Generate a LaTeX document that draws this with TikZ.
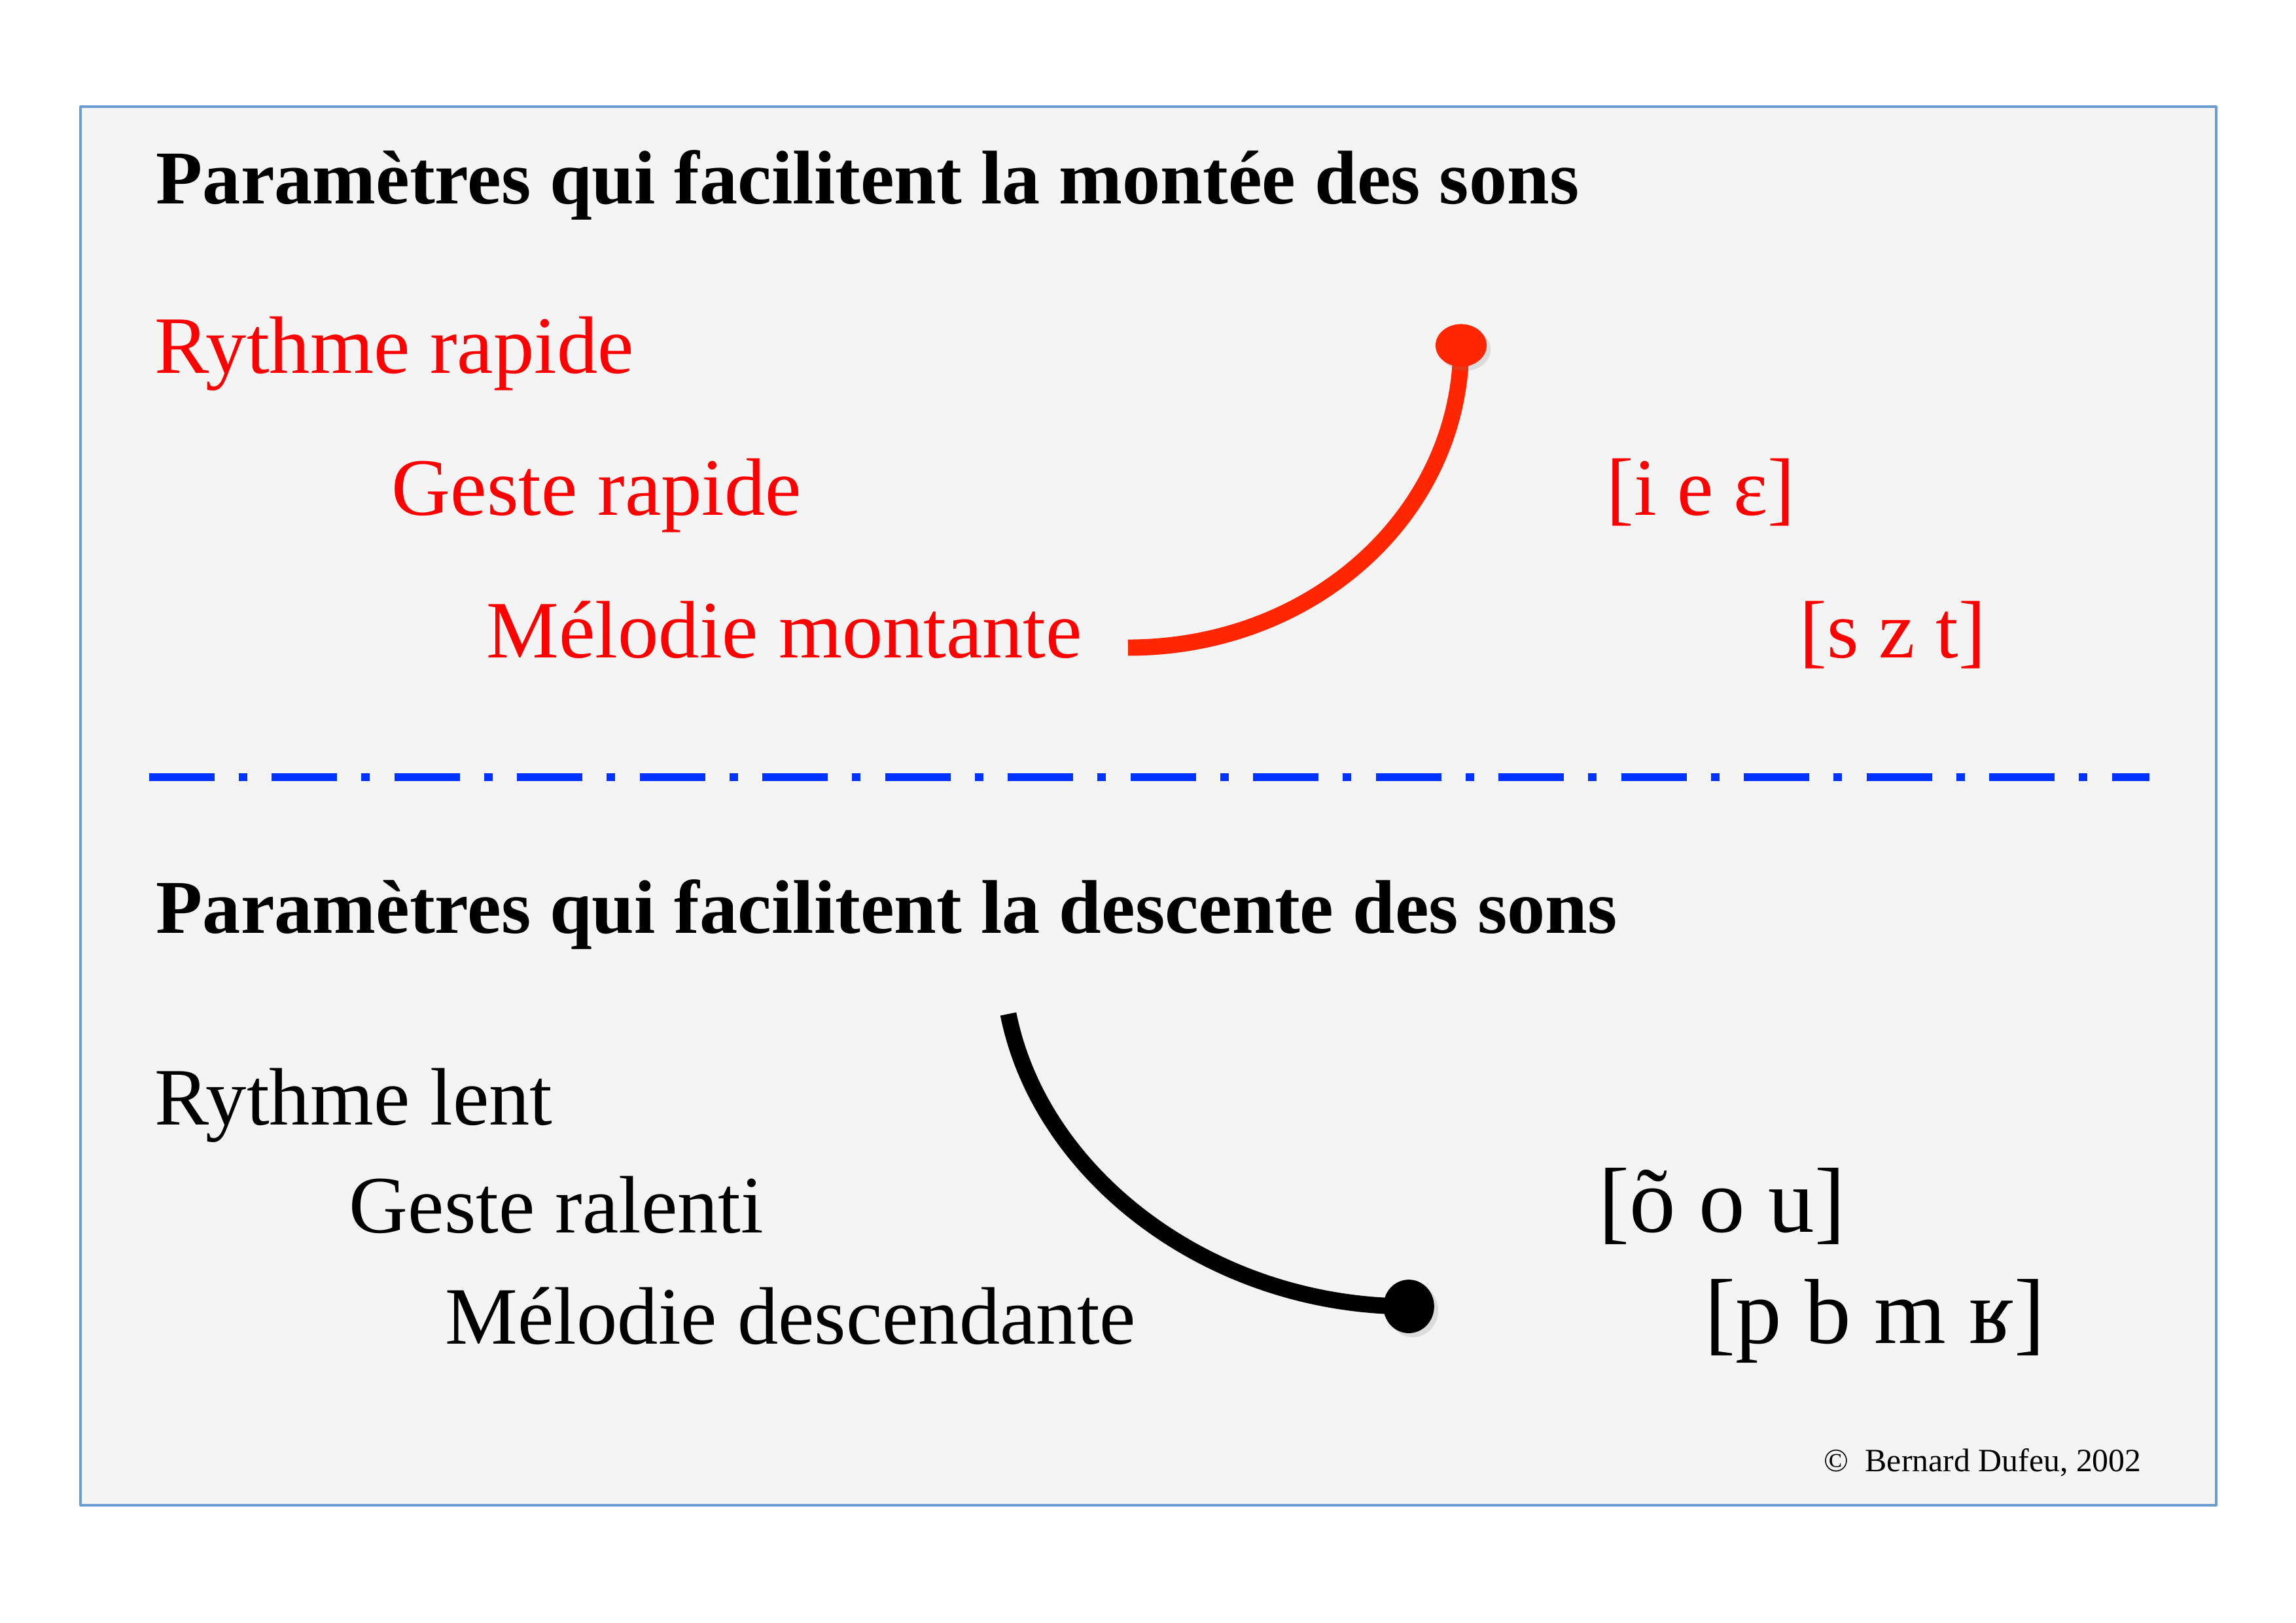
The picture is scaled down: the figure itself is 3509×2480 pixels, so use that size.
\documentclass[tikz,border=0pt]{standalone}
\usepackage{fontspec}
\setmainfont{Liberation Serif}
\usetikzlibrary{shapes.geometric,shadows}
\definecolor{fond}{RGB}{244,244,244}
\definecolor{cadre}{RGB}{106,155,209}
\definecolor{rougevif}{RGB}{255,38,0}
\definecolor{bleutrait}{RGB}{0,51,255}
\begin{document}
\begin{tikzpicture}[x=0.08464mm,y=-0.08464mm,line join=round,
  texte/.style={anchor=base west,inner sep=0pt},
  titre/.style={texte,font=\fontsize{28}{34}\selectfont\bfseries},
  ligne/.style={texte,font=\fontsize{30}{36}\selectfont},
  phonbas/.style={texte,font=\fontsize{34}{40}\selectfont},
  courbe/.style={line width=6pt},
  point/.style={ellipse,fill,inner sep=0pt,drop shadow={opacity=.2,shadow xshift=1.5pt,shadow yshift=-1.5pt}}]
\useasboundingbox (0,0) rectangle (3509,2480);
\fill[white] (0,0) rectangle (3509,2480);
\draw[cadre,fill=fond,line width=0.75pt] (123,163) rectangle (3387,2301);
\node[titre] (titremontee) at (238,311) {Paramètres qui facilitent la montée des sons};
\node[ligne,red] (rythmerapide) at (236,570) {Rythme rapide};
\node[ligne,red] (gesterapide) at (598,787) {Geste rapide};
\node[ligne,red] (melodiemontante) at (743,1005) {Mélodie montante};
\node[ligne,red] (voyhaut) at (2455,787) {[i e ɛ]};
\node[ligne,red] (conshaut) at (2750,1005) {[s z t]};
\coordinate (departrouge) at (1724,990);
\coordinate (pointrouge) at (2233,528);
\draw[courbe,rougevif] (departrouge) .. controls +(285,0) and +(0,255) .. (pointrouge);
\node[point,rougevif,minimum width=18.8pt,minimum height=15.7pt] (dotrouge) at (pointrouge) {};
\coordinate (gauche) at (228,1188);
\coordinate (droite) at (3285,1188);
\draw[bleutrait,line width=2.89pt,dash pattern=on 24.08pt off 8.91pt on 3.13pt off 9.03pt] (gauche) -- (droite);
\node[titre] (titredescente) at (238,1426) {Paramètres qui facilitent la descente des sons};
\node[ligne] (rythmelent) at (236,1719) {Rythme lent};
\node[ligne] (gesteralenti) at (533,1884) {Geste ralenti};
\node[ligne] (melodiedesc) at (680,2054) {Mélodie descendante};
\node[phonbas] (voybas) at (2443,1883) {[õ o u]};
\node[phonbas] (consbas) at (2605,2053) {[p b m ʁ]};
\coordinate (departnoir) at (1541,1550);
\coordinate (pointnoir) at (2153,1997);
\draw[courbe,black] (departnoir) .. controls +(50,250) and +(-300,0) .. (pointnoir);
\node[point,black,minimum width=18.7pt,minimum height=19.7pt] (dotnoir) at (pointnoir) {};
\node[texte,font=\fontsize{12}{14}\selectfont] (droits) at (2787,2249) {©\ \ Bernard Dufeu, 2002};
\end{tikzpicture}
\end{document}
